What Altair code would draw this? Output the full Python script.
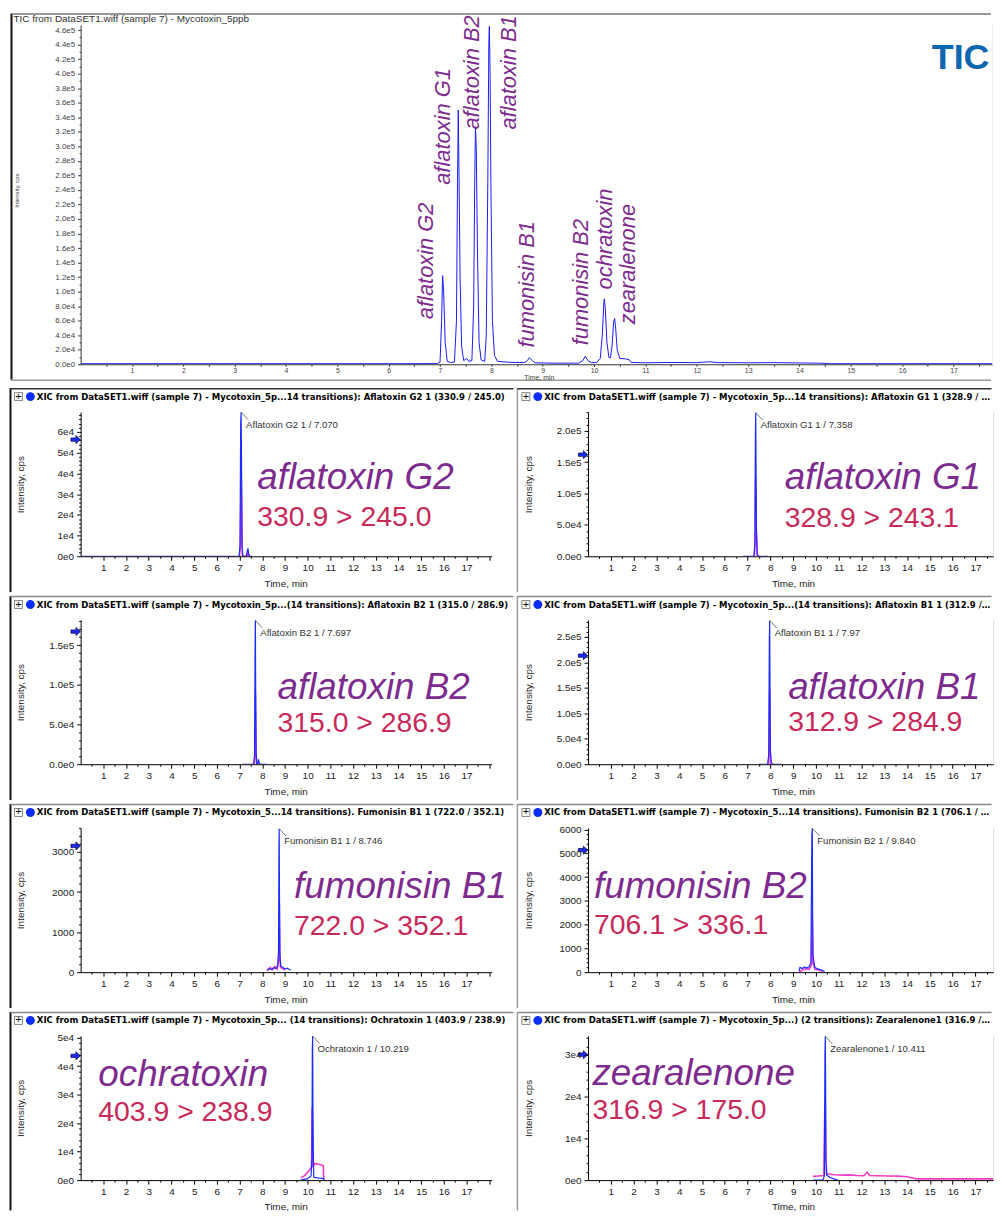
import altair as alt
import pandas as pd

# ============================ DATA ============================
# Total ion chromatogram (time in min, intensity in cps)
TIC_TIME = [0.00, 3.00, 6.00, 6.95, 7.00, 7.03, 7.05, 7.07, 7.10, 7.14, 7.20,
            7.28, 7.32, 7.34, 7.355, 7.37, 7.39, 7.42, 7.46, 7.52, 7.56,
            7.62, 7.655, 7.675, 7.69, 7.705, 7.73, 7.76, 7.80,
            7.87, 7.90, 7.93, 7.95, 7.96, 7.975, 7.99, 8.02, 8.06, 8.12,
            8.40, 8.65, 8.70, 8.74, 8.78, 8.85, 9.20, 9.70, 9.78, 9.83, 9.88, 9.95,
            10.05, 10.12, 10.16, 10.19, 10.20, 10.22, 10.25, 10.29, 10.32,
            10.35, 10.38, 10.40, 10.42, 10.45, 10.50, 10.60, 10.68, 10.72,
            11.00, 11.50, 12.00, 12.25, 12.40, 13.00, 13.50, 14.00, 14.40, 14.60,
            15.50, 16.50, 17.75]
TIC_INTENSITY = [800, 800, 800, 900, 3000, 60000, 122000, 100000, 30000, 4000, 2500,
                 3000, 60000, 250000, 350000, 260000, 120000, 25000, 5000, 8000, 4000,
                 5000, 80000, 250000, 327000, 300000, 150000, 30000, 6000,
                 4000, 40000, 250000, 440000, 465000, 400000, 250000, 60000, 12000, 4000,
                 2500, 2500, 5000, 9000, 6000, 2000, 1500, 1500, 5000, 11000, 5000, 2000,
                 2500, 8000, 40000, 85000, 90000, 75000, 30000, 9000, 9000,
                 25000, 58000, 63000, 50000, 20000, 8000, 7500, 6500, 2500,
                 2000, 2500, 2200, 3500, 2300, 2000, 2200, 1800, 1500, 800,
                 800, 800, 800]
TIC_PEAK_NAMES = ["aflatoxin G2", "aflatoxin G1", "aflatoxin B2", "aflatoxin B1",
                  "fumonisin B1", "fumonisin B2", "ochratoxin", "zearalenone"]

# Extracted ion chromatograms: quantifier (blue) and qualifier (magenta) traces
G2_TIME = [0.00, 6.98, 7.02, 7.05, 7.07, 7.09, 7.11, 7.14, 7.30, 7.34, 7.37, 7.40, 7.44, 7.57]
G2_QUANT = [0, 0, 5000, 64000, 69500, 40000, 6000, 0, 0, 2500, 3800, 1500, 0, 0]
G2_QUAL_TIME = [7.00, 7.03, 7.06, 7.07, 7.09, 7.11, 7.13, 7.32, 7.37, 7.42]
G2_QUAL = [0, 4000, 30000, 40000, 28000, 5000, 0, 0, 1500, 0]

G1_TIME = [6.80, 7.28, 7.32, 7.345, 7.358, 7.37, 7.39, 7.42, 7.50, 7.90]
G1_QUANT = [0, 0, 20000, 200000, 229000, 150000, 40000, 3000, 0, 0]
G1_QUAL_TIME = [7.30, 7.335, 7.35, 7.365, 7.38, 7.40, 7.43]
G1_QUAL = [0, 30000, 125000, 90000, 45000, 28000, 0]

B2_TIME = [7.13, 7.62, 7.66, 7.685, 7.697, 7.71, 7.73, 7.76, 7.80, 7.84, 7.87, 7.91, 8.22]
B2_QUANT = [0, 0, 10000, 150000, 181000, 100000, 15000, 0, 0, 6000, 1000, 0, 0]
B2_QUAL_TIME = [7.65, 7.68, 7.697, 7.71, 7.73, 7.76]
B2_QUAL = [0, 14000, 88000, 60000, 12000, 0]

B1_TIME = [7.47, 7.88, 7.93, 7.955, 7.97, 7.985, 8.00, 8.04, 8.10, 8.48]
B1_QUANT = [0, 0, 20000, 245000, 282000, 150000, 25000, 3000, 0, 0]
B1_QUAL_TIME = [7.93, 7.955, 7.97, 7.985, 8.00, 8.03]
B1_QUAL = [0, 90000, 148000, 60000, 22000, 0]

FB1_TIME = [8.22, 8.30, 8.40, 8.50, 8.60, 8.68, 8.72, 8.735, 8.746, 8.76, 8.78, 8.82,
            8.90, 9.00, 9.10, 9.20, 9.26]
FB1_QUANT = [60, 90, 70, 110, 90, 150, 500, 3200, 3580, 1800, 400, 150, 120, 80, 100, 60, 60]
FB1_QUAL_TIME = [8.22, 8.35, 8.45, 8.55, 8.65, 8.72, 8.74, 8.75, 8.77, 8.80, 8.90, 9.00]
FB1_QUAL = [30, 120, 60, 140, 80, 300, 1770, 1700, 500, 120, 90, 50]

FB2_TIME = [9.26, 9.30, 9.40, 9.50, 9.60, 9.70, 9.78, 9.82, 9.84, 9.855, 9.87, 9.95,
            10.05, 10.15, 10.25, 10.38]
FB2_QUANT = [50, 200, 150, 220, 170, 230, 400, 5700, 6050, 2500, 700, 200, 150, 120, 80, 30]
FB2_QUAL_TIME = [9.26, 9.40, 9.55, 9.70, 9.80, 9.835, 9.85, 9.87, 9.95, 10.10, 10.30]
FB2_QUAL = [20, 80, 150, 120, 300, 2560, 1600, 400, 120, 90, 40]

OCH_TIME = [9.70, 10.00, 10.15, 10.19, 10.205, 10.219, 10.235, 10.25, 10.27, 10.50, 10.70, 10.72]
OCH_QUANT = [0, 500, 1500, 8000, 45000, 50500, 21000, 8000, 1000, 700, 600, 0]
OCH_QUAL_TIME = [9.70, 9.85, 10.00, 10.12, 10.17, 10.20, 10.225, 10.24, 10.30, 10.40,
                 10.50, 10.60, 10.69, 10.71]
OCH_QUAL = [800, 1500, 2800, 4000, 4500, 25600, 16000, 4500, 5800, 5700, 5500, 5300, 5000, 0]

ZEA_TIME = [9.87, 10.30, 10.37, 10.395, 10.411, 10.425, 10.44, 10.47, 10.60, 10.78, 10.96]
ZEA_QUANT = [0, 0, 1000, 30000, 34400, 24000, 5000, 1200, 700, 300, 0]
ZEA_QUAL_TIME = [9.87, 10.10, 10.35, 10.39, 10.41, 10.43, 10.47, 10.80, 11.20, 11.50, 11.80,
                 12.10, 12.25, 12.35, 12.70, 13.20, 13.60, 14.00, 14.30, 14.40, 15.00,
                 16.00, 17.00, 17.80]
ZEA_QUAL = [900, 1000, 1100, 18600, 17000, 6000, 1500, 1300, 1200, 1250, 1100,
            1050, 1900, 1100, 1050, 1000, 950, 800, 450, 300, 300,
            300, 300, 300]

HEADERS = [
    "XIC from DataSET1.wiff (sample 7) - Mycotoxin_5p...14 transitions): Aflatoxin G2 1 (330.9 / 245.0)",
    "XIC from DataSET1.wiff (sample 7) - Mycotoxin_5p...14 transitions): Aflatoxin G1 1 (328.9 / 243.1)",
    "XIC from DataSET1.wiff (sample 7) - Mycotoxin_5p...(14 transitions): Aflatoxin B2 1 (315.0 / 286.9)",
    "XIC from DataSET1.wiff (sample 7) - Mycotoxin_5p...(14 transitions): Aflatoxin B1 1 (312.9 / 284.9)",
    "XIC from DataSET1.wiff (sample 7) - Mycotoxin_5...14 transitions). Fumonisin B1 1 (722.0 / 352.1)",
    "XIC from DataSET1.wiff (sample 7) - Mycotoxin_5...14 transitions). Fumonisin B2 1 (706.1 / 336.1)",
    "XIC from DataSET1.wiff (sample 7) - Mycotoxin_5p... (14 transitions): Ochratoxin 1 (403.9 / 238.9)",
    "XIC from DataSET1.wiff (sample 7) - Mycotoxin_5p...) (2 transitions): Zearalenone1 (316.9 / 175.0)",
]
APEX_LABELS = ["Aflatoxin G2 1 / 7.070", "Aflatoxin G1 1 / 7.358", "Aflatoxin B2 1 / 7.697",
               "Aflatoxin B1 1 / 7.97", "Fumonisin B1 1 / 8.746", "Fumonisin B2 1 / 9.840",
               "Ochratoxin 1 / 10.219", "Zearalenone1 / 10.411"]
APEX_TIME = [7.07, 7.358, 7.697, 7.97, 8.746, 9.84, 10.219, 10.411]
APEX_HEIGHT = [69500, 229000, 181000, 282000, 3580, 6050, 50500, 34400]
ARROW_LEVEL = [56300, 162000, 167000, 213000, 3150, 5130, 43600, 30000]
COMPOUNDS = ["aflatoxin G2", "aflatoxin G1", "aflatoxin B2", "aflatoxin B1",
             "fumonisin B1", "fumonisin B2", "ochratoxin", "zearalenone"]
TRANSITIONS = ["330.9 > 245.0", "328.9 > 243.1", "315.0 > 286.9", "312.9 > 284.9",
               "722.0 > 352.1", "706.1 > 336.1", "403.9 > 238.9", "316.9 > 175.0"]
Y_MAX = [69600, 230000, 181600, 283000, 3600, 6066, 50600, 34500]
Y_STEP = [10000, 50000, 50000, 50000, 1000, 1000, 10000, 10000]
Y_FORMAT = [".0e", ".1e", ".1e", ".1e", "d", "d", ".0e", ".0e"]

# ============================ LAYOUT ============================
TIC_NAME_T = [6.73, 7.05, 7.63, 8.34, 8.69, 9.75, 10.22, 10.67]
TIC_NAME_I = [62000, 247000, 323000, 323000, 23000, 26000, 103000, 55000]
NAME_T = [7.78, 8.63, 8.67, 8.78, 9.40, 0.26, 0.78, 0.19]
NAME_I1 = [32600, 108000, 82000, 128000, 1850, 3116, 33100, 22700]
NAME_I2 = [14400, 46000, 41000, 66000, 920, 1595, 20900, 14600]

FONT = "Liberation Sans"
NARROW = "Liberation Sans Narrow, Arial Narrow, DejaVu Sans Condensed, Liberation Sans, sans-serif"
PURPLE = "#7d2b8e"
CRIMSON = "#c8295b"
BLUE = "#1c2cff"
MAGENTA = "#f03cc8"
TIC_BLUE = "#0d66b0"
ONE = pd.DataFrame({"k": [0]})


def frame(L, R, T, B, left_x, left_color, left_w, top_color, bottom_y=None):
    base = alt.Chart(ONE)
    out = [
        base.mark_rect(color="white").encode(
            x=alt.value(L), x2=alt.value(R), y=alt.value(T), y2=alt.value(B)),
        base.mark_rule(color=left_color, strokeWidth=left_w).encode(
            x=alt.value(left_x), y=alt.value(T + 1.5), y2=alt.value(B - 1.5)),
        base.mark_rule(color=top_color, strokeWidth=1.5).encode(
            x=alt.value(left_x), x2=alt.value(R - 1.5), y=alt.value(T + 2)),
    ]
    if bottom_y is not None:
        out.append(base.mark_rule(color="#999", strokeWidth=1.5).encode(
            x=alt.value(left_x), x2=alt.value(R - 1.5), y=alt.value(bottom_y)))
    return out


def major_label(step, fmt):
    test = f"abs(datum.value / {step} - round(datum.value / {step})) < 0.001"
    if fmt == "d":
        f = "format(datum.value, 'd')"
    else:
        f = f"replace(format(datum.value, '{fmt}'), 'e+', 'e')"
    return test, f"{test} ? {f} : ''"


def axis_values(vmax, minor):
    vals, k = [], 0
    while k * minor <= vmax + 1e-6:
        vals.append(round(k * minor, 6))
        k += 1
    return vals


X_LABEL_EXPR = "datum.value % 1 === 0 && datum.value <= 17 ? format(datum.value, 'd') : ''"


def xic_panel(idx, qt, qi, lt, li, width, xmax, left_col, bottom):
    H = 145
    L = -72.5 if left_col else -72.0
    R = 436.5 if left_col else 407.0
    T = -25.5
    xs = alt.Scale(domain=[0, xmax], nice=False, zero=False)
    ys = alt.Scale(domain=[0, Y_MAX[idx]], nice=False, zero=False)
    xvals = [k / 2 for k in range(1, int(xmax * 2) + 1)]
    yvals = axis_values(Y_MAX[idx], Y_STEP[idx] / 5)
    ytest, ylab = major_label(Y_STEP[idx], Y_FORMAT[idx])
    xaxis = alt.Axis(values=xvals, labelExpr=X_LABEL_EXPR,
                     tickSize={"condition": {"test": "datum.value % 1 === 0", "value": 4}, "value": 2},
                     title="Time, min", titleX=206, titleY=27, titleBaseline="middle",
                     titleAlign="center", titleFont=FONT, titleFontSize=10,
                     titleFontWeight="normal", titleColor="#222",
                     labelFont=FONT, labelFontSize=10, labelColor="#222", labelPadding=2,
                     labelOverlap=False, labelFlush=False, domainColor="#000",
                     tickColor="#000", grid=False, zindex=1)
    yaxis = alt.Axis(values=yvals, labelExpr=ylab,
                     tickSize={"condition": {"test": ytest, "value": 4}, "value": 2},
                     title="Intensity, cps", titleX=-60, titleY=H / 2, titleAngle=270,
                     titleAlign="center", titleBaseline="middle", titleFont=FONT,
                     titleFontSize=10, titleFontWeight="normal", titleColor="#222",
                     labelFont=FONT, labelFontSize=10, labelColor="#222", labelPadding=3,
                     labelOverlap=False, labelFlush=False, domainColor="#000",
                     tickColor="#000", grid=False, zindex=1)
    X = alt.X("t:Q", scale=xs, axis=xaxis)
    Y = alt.Y("i:Q", scale=ys, axis=yaxis)

    quant = pd.DataFrame({"t": qt, "i": qi})
    qual = pd.DataFrame({"t": lt, "i": li})
    apex = pd.DataFrame({"t": [APEX_TIME[idx]], "i": [APEX_HEIGHT[idx]], "txt": [APEX_LABELS[idx]]})
    arrow = pd.DataFrame({"i": [ARROW_LEVEL[idx]]})
    name = pd.DataFrame({"t": [NAME_T[idx]], "i": [NAME_I1[idx]], "txt": [COMPOUNDS[idx]]})
    mrm = pd.DataFrame({"t": [NAME_T[idx]], "i": [NAME_I2[idx]], "txt": [TRANSITIONS[idx]]})

    layers = frame(L, R, T, bottom,
                   -70.5 if left_col else -71.0,
                   "#111" if left_col else "#9a9a9a",
                   2.0 if left_col else 1.5,
                   "#333" if idx < 2 else "#8a8a8a")
    layers += [
        alt.Chart(qual).mark_line(color=MAGENTA, strokeWidth=1.6, clip=True).encode(x=X, y=Y),
        alt.Chart(quant).mark_line(color=BLUE, strokeWidth=1.2, clip=True).encode(x=X, y=Y),
        alt.Chart(apex).mark_rule(color="#555", strokeWidth=0.8, x2Offset=7, y2Offset=7.5).encode(
            x=X, x2="t:Q", y=Y, y2="i:Q"),
        alt.Chart(apex).mark_text(align="left", baseline="middle", dx=5, dy=12.5, font=FONT,
                                  fontSize=9.6, color="#333").encode(x=X, y=Y, text="txt:N"),
        alt.Chart(arrow).mark_point(
            shape="M-1,-0.35L0.05,-0.35L0.05,-0.85L1,0L0.05,0.85L0.05,0.35L-1,0.35Z",
            filled=True, fill=BLUE, stroke="#000040", strokeWidth=0.7, size=90, opacity=1
        ).encode(x=alt.value(-5), y=Y),
        alt.Chart(name).mark_text(align="left", baseline="alphabetic", font=FONT, fontSize=37,
                                  fontStyle="italic", color=PURPLE).encode(x=X, y=Y, text="txt:N"),
        alt.Chart(mrm).mark_text(align="left", baseline="alphabetic", font=FONT, fontSize=28.5,
                                 color=CRIMSON).encode(x=X, y=Y, text="txt:N"),
        alt.Chart(ONE).mark_point(shape="square", filled=False, stroke="#666", strokeWidth=0.8,
                                  size=64, opacity=1).encode(x=alt.value(-62.5), y=alt.value(-15.5)),
        alt.Chart(ONE).mark_text(font=FONT, fontSize=11, color="#000", align="center",
                                 baseline="middle").encode(
            x=alt.value(-62.5), y=alt.value(-15.5), text=alt.value("+")),
        alt.Chart(ONE).mark_point(shape="circle", filled=True, fill="#0a2cff", size=80,
                                  opacity=1).encode(x=alt.value(-50.5), y=alt.value(-15.5)),
        alt.Chart(ONE).mark_text(font=NARROW, fontSize=9.5, fontWeight="bold", color="#000",
                                 align="left", baseline="middle",
                                 limit=(R - 1 + 44), ellipsis="").encode(
            x=alt.value(-44), y=alt.value(-15.5), text=alt.value(HEADERS[idx])),
    ]
    return alt.layer(*layers).properties(width=width, height=H)


def tic_panel():
    W, H = 916, 341
    xs = alt.Scale(domain=[0, 17.75], nice=False, zero=False)
    ys = alt.Scale(domain=[0, 467000], nice=False, zero=False)
    xvals = [k / 2 for k in range(1, 36)]
    yvals = axis_values(460000, 10000)
    ytest, ylab = major_label(20000, ".1e")
    xaxis = alt.Axis(values=xvals, labelExpr=X_LABEL_EXPR,
                     tickSize=2, title="Time, min", titleX=460.5, titleY=13,
                     titleBaseline="middle", titleAlign="center", titleFont=FONT,
                     titleFontSize=7, titleFontWeight="normal", titleColor="#444",
                     labelFont=FONT, labelFontSize=7, labelColor="#444", labelPadding=0,
                     labelOverlap=False, labelFlush=False, domainColor="#333",
                     tickColor="#333", grid=False, zindex=1)
    yaxis = alt.Axis(values=yvals, labelExpr=ylab,
                     tickSize={"condition": {"test": ytest, "value": 3}, "value": 1.5},
                     title="Intensity, cps", titleX=-64, titleY=166, titleAngle=270,
                     titleAlign="center", titleBaseline="middle", titleFont=FONT,
                     titleFontSize=6, titleFontWeight="normal", titleColor="#444",
                     labelFont=FONT, labelFontSize=8, labelColor="#444", labelPadding=3,
                     labelOverlap=False, labelFlush=False, domainColor="#333",
                     tickColor="#333", grid=False, zindex=1)
    X = alt.X("t:Q", scale=xs, axis=xaxis)
    Y = alt.Y("i:Q", scale=ys, axis=yaxis)
    trace = pd.DataFrame({"t": TIC_TIME, "i": TIC_INTENSITY})
    names = pd.DataFrame({"t": TIC_NAME_T, "i": TIC_NAME_I, "txt": TIC_PEAK_NAMES})
    tic_lab = pd.DataFrame({"t": [17.7], "i": [422000], "txt": ["TIC"]})

    layers = frame(-71.5, 916.5, -13, 358, -69.5, "#111", 2.0, "#777", bottom_y=357)
    layers += [
        alt.Chart(trace).mark_line(color="#1a1aff", strokeWidth=1, clip=True).encode(x=X, y=Y),
        alt.Chart(names).mark_text(angle=270, align="left", baseline="middle", font=FONT,
                                   fontSize=22, fontStyle="italic", color=PURPLE).encode(
            x=X, y=Y, text="txt:N"),
        alt.Chart(tic_lab).mark_text(align="right", baseline="middle", font=FONT, fontSize=36,
                                     fontWeight="bold", color=TIC_BLUE).encode(
            x=X, y=Y, text="txt:N"),
        alt.Chart(ONE).mark_text(align="left", baseline="middle", font=FONT, fontSize=10,
                                 color="#333").encode(
            x=alt.value(-67.5), y=alt.value(-6),
            text=alt.value("TIC from DataSET1.wiff (sample 7) - Mycotoxin_5ppb")),
    ]
    return alt.layer(*layers).properties(width=W, height=H)


traces = [
    (G2_TIME, G2_QUANT, G2_QUAL_TIME, G2_QUAL),
    (G1_TIME, G1_QUANT, G1_QUAL_TIME, G1_QUAL),
    (B2_TIME, B2_QUANT, B2_QUAL_TIME, B2_QUAL),
    (B1_TIME, B1_QUANT, B1_QUAL_TIME, B1_QUAL),
    (FB1_TIME, FB1_QUANT, FB1_QUAL_TIME, FB1_QUAL),
    (FB2_TIME, FB2_QUANT, FB2_QUAL_TIME, FB2_QUAL),
    (OCH_TIME, OCH_QUANT, OCH_QUAL_TIME, OCH_QUAL),
    (ZEA_TIME, ZEA_QUANT, ZEA_QUAL_TIME, ZEA_QUAL),
]

rows = []
for r in range(4):
    bottom = 177 if r == 3 else 182.5
    li = 2 * r
    ri = 2 * r + 1
    left = xic_panel(li, *traces[li], width=413, xmax=18.1, left_col=True, bottom=bottom)
    right = xic_panel(ri, *traces[ri], width=407, xmax=17.77, left_col=False, bottom=bottom)
    rows.append(alt.hconcat(left, right, spacing=0))

chart = alt.vconcat(
    tic_panel(),
    alt.vconcat(*rows, spacing=0),
    spacing=4,
).properties(padding=0).configure_view(stroke=None).configure(background="white")

chart.save("out.html", embed_options={"renderer": "svg", "actions": False})
